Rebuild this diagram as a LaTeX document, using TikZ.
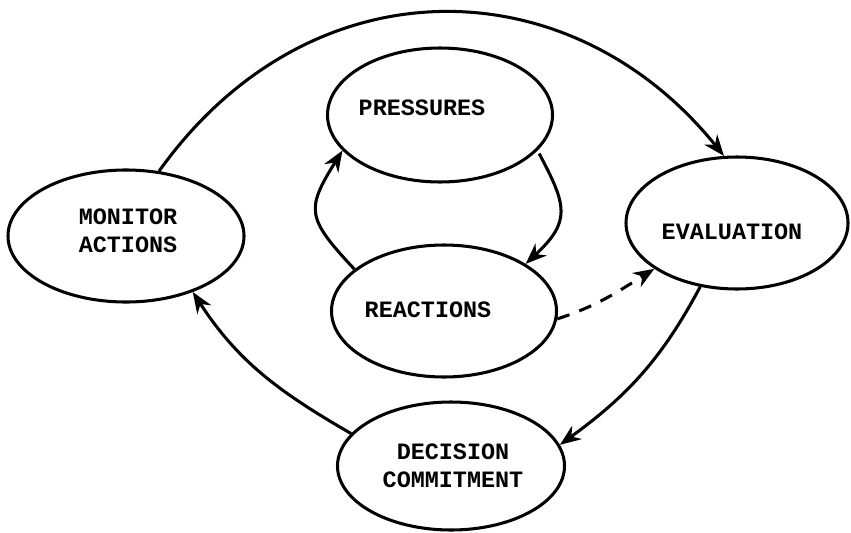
\documentclass[tikz,border=0pt]{standalone}
\usepackage{fontspec}
\setmonofont{Liberation Mono}
\usetikzlibrary{shapes.geometric,arrows.meta}
\begin{document}
\begin{tikzpicture}[x=0.03cm,y=-0.03cm,line width=2.6pt,
    blob/.style={ellipse,draw,inner sep=0pt},
    tag/.style={align=center,inner sep=0pt,
      font=\ttfamily\bfseries\fontsize{20}{23.5}\selectfont},
    flow/.style={-{Stealth[length=18pt,width=14pt]}}]
  \useasboundingbox (0,0) rectangle (851,532);
  % the five stages
  \node[blob,minimum width=7.08cm,minimum height=3.96cm] (monitor) at (126,236) {};
  \node[blob,minimum width=6.75cm,minimum height=4.02cm] (pressures) at (440,115) {};
  \node[blob,minimum width=6.75cm,minimum height=3.96cm] (reactions) at (444,311) {};
  \node[blob,minimum width=6.66cm,minimum height=3.96cm] (evaluation) at (737,223) {};
  \node[blob,minimum width=6.81cm,minimum height=3.84cm] (decision) at (451,466) {};
  \node[tag] (monitortext) at (128,231) {MONITOR\\ACTIONS};
  \node[tag] (pressurestext) at (422,108) {PRESSURES};
  \node[tag] (reactionstext) at (428,310) {REACTIONS};
  \node[tag] (evaluationtext) at (732,232) {EVALUATION};
  \node[tag] (decisiontext) at (453,466) {DECISION\\COMMITMENT};
  % outer loop
  \draw[flow] (monitor.63) .. controls (310,-40) and (570,-35) .. (evaluation.101);
  \draw[flow] (evaluation.240) to[out=-118,in=36] (decision.11);
  \draw[flow] (decision.162) to[out=150,in=-57] (monitor.-40);
  % inner loop
  \draw[flow,shorten <=3pt] (pressures.-20) to[out=-62,in=43,looseness=1.4] (reactions.30);
  \draw[flow] (reactions.155) to[out=133,in=-122,looseness=1.5] (pressures.200);
  \draw[flow,dash pattern=on 11pt off 9pt] (reactions.-4) to[out=18,in=212] (evaluation.209);
\end{tikzpicture}
\end{document}
